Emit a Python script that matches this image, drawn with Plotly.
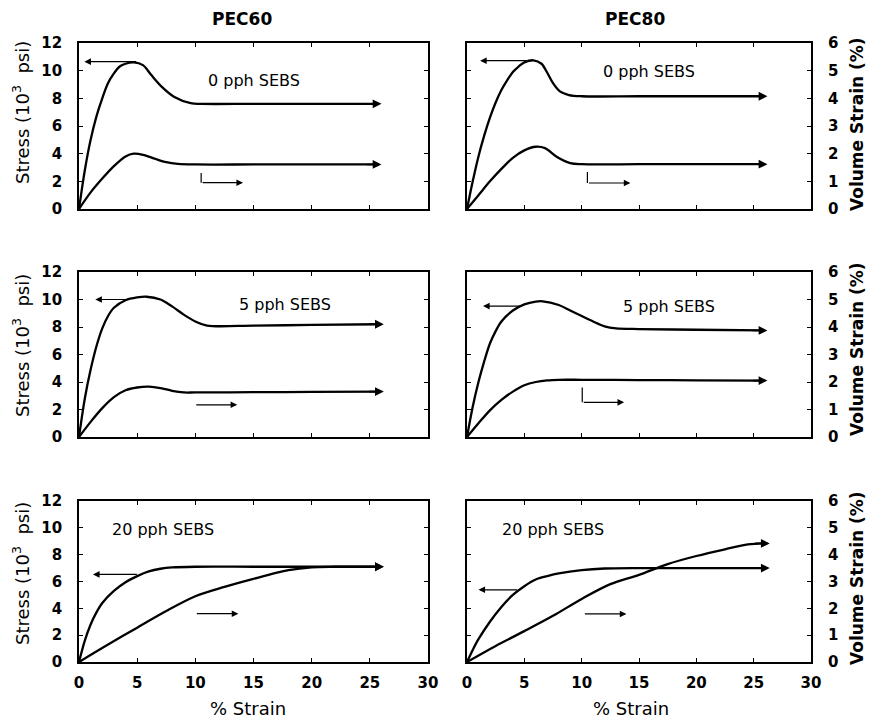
import plotly.graph_objects as go

# ---------------- data ----------------
# PEC60, 0 pph SEBS
p60_0_sx = [0, 0.5, 1, 1.5, 2, 2.5, 3, 3.5, 4, 4.7, 5.5, 6.2, 7.1, 8.2, 9.6, 10.5, 15, 20, 25.6]
p60_0_s = [0, 2.8, 5.0, 6.7, 8.0, 9.1, 9.8, 10.3, 10.5, 10.6, 10.4, 9.7, 8.85, 8.1, 7.65, 7.6, 7.6, 7.6, 7.6]
p60_0_vx = [0, 1, 2, 3, 4, 4.7, 5.5, 6.5, 7.5, 8.5, 10, 15, 20, 25.6]
p60_0_v = [0, 0.6, 1.1, 1.55, 1.9, 2.0, 1.96, 1.82, 1.69, 1.63, 1.61, 1.61, 1.61, 1.61]

# PEC80, 0 pph SEBS
p80_0_sx = [0, 0.5, 1, 1.5, 2, 2.5, 3, 3.5, 4, 4.5, 5, 5.8, 6.5, 7, 7.5, 8.1, 8.9, 10, 15, 20, 25.8]
p80_0_s = [0, 2.0, 3.8, 5.3, 6.6, 7.7, 8.6, 9.3, 9.9, 10.3, 10.6, 10.75, 10.5, 9.85, 9.1, 8.5, 8.24, 8.15, 8.15, 8.15, 8.15]
p80_0_vx = [0, 1, 2, 3, 4, 5, 6, 6.8, 7.85, 9, 10, 15, 20, 25.8]
p80_0_v = [0, 0.5, 1.0, 1.45, 1.85, 2.12, 2.25, 2.2, 1.88, 1.66, 1.62, 1.62, 1.62, 1.62]

# PEC60, 5 pph SEBS
p60_5_sx = [0, 0.5, 1, 1.5, 2, 2.5, 3, 4, 5, 5.8, 7, 8, 9, 10, 11, 15, 20, 25.8]
p60_5_s = [0, 2.8, 4.9, 6.6, 7.9, 8.8, 9.4, 9.95, 10.15, 10.2, 10.0, 9.5, 8.9, 8.4, 8.1, 8.1, 8.15, 8.2]
p60_5_vx = [0, 1, 2, 3, 4, 5, 6, 7, 8, 9, 10, 15, 20, 25.8]
p60_5_v = [0, 0.55, 1.05, 1.45, 1.7, 1.8, 1.83, 1.78, 1.68, 1.62, 1.62, 1.63, 1.64, 1.65]

# PEC80, 5 pph SEBS
p80_5_sx = [0, 0.5, 1, 1.5, 2, 2.5, 3, 4, 5, 6, 6.6, 8, 9, 10, 11, 12, 13, 15, 20, 25.8]
p80_5_s = [0, 2.2, 4.0, 5.5, 6.8, 7.7, 8.4, 9.2, 9.65, 9.85, 9.87, 9.6, 9.2, 8.8, 8.4, 8.05, 7.9, 7.85, 7.8, 7.75]
p80_5_vx = [0, 1, 2, 3, 4, 5, 6, 7, 8, 10, 15, 20, 25.8]
p80_5_v = [0, 0.5, 0.97, 1.35, 1.65, 1.88, 2.0, 2.06, 2.08, 2.08, 2.07, 2.06, 2.05]

# PEC60, 20 pph SEBS
p60_20_sx = [0, 0.5, 1, 1.5, 2, 3, 4, 5, 6, 7, 8, 10, 15, 20, 25.8]
p60_20_s = [0, 1.6, 2.8, 3.7, 4.4, 5.3, 5.95, 6.4, 6.75, 6.95, 7.05, 7.1, 7.1, 7.1, 7.1]
p60_20_vx = [0, 2.5, 5, 7.5, 10, 12.5, 15, 18, 20, 22, 25.8]
p60_20_v = [0, 0.65, 1.28, 1.9, 2.45, 2.8, 3.1, 3.42, 3.53, 3.55, 3.55]

# PEC80, 20 pph SEBS
p80_20_sx = [0, 0.5, 1, 2, 3, 4, 5, 6, 7, 8, 10, 12, 15, 20, 26]
p80_20_s = [0, 0.9, 1.7, 3.0, 4.1, 5.0, 5.65, 6.15, 6.4, 6.6, 6.85, 6.97, 7.0, 7.0, 7.0]
p80_20_vx = [0, 2.5, 5, 7.5, 10, 12.5, 15, 17.5, 20, 22.5, 24.5, 26]
p80_20_v = [0, 0.6, 1.15, 1.72, 2.35, 2.9, 3.25, 3.65, 3.95, 4.2, 4.38, 4.42]

panel_labels = ["0 pph SEBS", "0 pph SEBS", "5 pph SEBS", "5 pph SEBS", "20 pph SEBS", "20 pph SEBS"]
# label positions (x strain, y on the axis named in label_axis)
label_x = [15.0, 15.9, 17.7, 17.65, 7.25, 7.5]
label_y = [9.27, 4.97, 9.66, 4.74, 9.86, 4.94]
label_axis = ["s", "v", "s", "v", "s", "v"]

# "<-" arrows pointing to the stress axis: tail x, tip x, y, axis
left_arrow_tail = [5.05, 5.8, 4.4, 4.9, 5.1, 4.5]
left_arrow_tip = [0.46, 1.14, 1.4, 1.4, 1.2, 1.0]
left_arrow_y = [10.65, 5.36, 10.0, 4.76, 6.53, 2.69]
left_arrow_axis = ["s", "v", "s", "v", "s", "v"]

# "->" arrows pointing to the volume axis (volume units); L-bend start (None = straight)
right_arrow_tail = [10.5, 10.5, 9.95, 10.05, 10.0, 10.15]
right_arrow_tip = [14.1, 14.25, 13.6, 13.7, 13.7, 13.9]
right_arrow_y = [0.95, 0.94, 1.17, 1.26, 1.8, 1.79]
right_arrow_bend_top = [1.3, 1.34, None, 1.8, None, None]

panels = [
    (p60_0_sx, p60_0_s, p60_0_vx, p60_0_v),
    (p80_0_sx, p80_0_s, p80_0_vx, p80_0_v),
    (p60_5_sx, p60_5_s, p60_5_vx, p60_5_v),
    (p80_5_sx, p80_5_s, p80_5_vx, p80_5_v),
    (p60_20_sx, p60_20_s, p60_20_vx, p60_20_v),
    (p80_20_sx, p80_20_s, p80_20_vx, p80_20_v),
]

x_ticks = [0, 5, 10, 15, 20, 25, 30]
stress_ticks = [0, 2, 4, 6, 8, 10, 12]
vol_ticks = [0, 1, 2, 3, 4, 5, 6]

# ---------------- layout geometry ----------------
W, H = 870, 721


def fx(px):
    return px / W


def fy(py):
    return 1 - py / H


col_px = [(79, 428), (467, 811)]
row_px = [(43, 209), (272, 437), (501, 662)]

FONT = "DejaVu Sans"
fig = go.Figure()
layout = dict(width=W, height=H, margin=dict(l=0, r=0, t=0, b=0, pad=0, autoexpand=False),
              paper_bgcolor="white", plot_bgcolor="white", showlegend=False,
              font=dict(family=FONT, color="black"))
annotations = []
LINE = dict(color="black", width=2.3)

for i, (sx, s, vx, v) in enumerate(panels):
    r, c = divmod(i, 2)
    xa = f"xaxis{i + 1}" if i else "xaxis"
    ya = f"yaxis{2 * i + 1}" if i else "yaxis"
    yb = f"yaxis{2 * i + 2}"
    xr = f"x{i + 1}" if i else "x"
    ysr = f"y{2 * i + 1}" if i else "y"
    yvr = f"y{2 * i + 2}"
    x0, x1 = col_px[c]
    t0, t1 = row_px[r]
    dom_x = [fx(x0), fx(x1)]
    dom_y = [fy(t1), fy(t0)]
    layout[xa] = dict(domain=dom_x, anchor=ysr, range=[0, 30], tickvals=x_ticks,
                      ticks="inside", ticklen=4, tickwidth=1.3, tickcolor="black",
                      showline=True, linecolor="black", linewidth=1.6, mirror="ticks",
                      showgrid=False, zeroline=False, showticklabels=(r == 2), automargin=False,
                      tickfont=dict(family=FONT, size=15, color="black", weight="bold"),
                      ticklabelstandoff=6)
    layout[ya] = dict(domain=dom_y, anchor=xr, range=[0, 12], tickvals=stress_ticks,
                      ticks="inside", ticklen=4, tickwidth=1.3, tickcolor="black",
                      showline=True, linecolor="black", linewidth=1.6, mirror="ticks",
                      showgrid=False, zeroline=False, showticklabels=(c == 0), automargin=False,
                      tickfont=dict(family=FONT, size=15, color="black", weight="bold"),
                      ticklabelstandoff=12)
    layout[yb] = dict(overlaying=ysr, anchor=xr, side="right", range=[0, 6], tickvals=vol_ticks,
                      ticks="", showline=False, showgrid=False, zeroline=False,
                      showticklabels=(c == 1), automargin=False,
                      tickfont=dict(family=FONT, size=15, color="black", weight="bold"),
                      ticklabelstandoff=16)

    fig.add_trace(go.Scatter(x=sx, y=s, xaxis=xr, yaxis=ysr, mode="lines",
                             line=dict(shape="spline", smoothing=0.9, **LINE)))
    fig.add_trace(go.Scatter(x=vx, y=v, xaxis=xr, yaxis=yvr, mode="lines",
                             line=dict(shape="spline", smoothing=0.9, **LINE)))

    arrow = dict(showarrow=True, text="", arrowhead=2, arrowsize=1.1, arrowwidth=1.6,
                 arrowcolor="black", standoff=0, startstandoff=0)
    # curve-end arrows
    annotations.append(dict(x=sx[-1] + 0.4, y=s[-1], ax=sx[-1] - 1, ay=s[-1],
                            xref=xr, yref=ysr, axref=xr, ayref=ysr, **arrow))
    annotations.append(dict(x=vx[-1] + 0.4, y=v[-1], ax=vx[-1] - 1, ay=v[-1],
                            xref=xr, yref=yvr, axref=xr, ayref=yvr, **arrow))
    # left-pointing arrow
    lref = ysr if left_arrow_axis[i] == "s" else yvr
    annotations.append(dict(x=left_arrow_tip[i], y=left_arrow_y[i], ax=left_arrow_tail[i],
                            ay=left_arrow_y[i], xref=xr, yref=lref, axref=xr, ayref=lref,
                            **{**arrow, "arrowwidth": 1.2}))
    # right-pointing arrow (volume axis)
    annotations.append(dict(x=right_arrow_tip[i], y=right_arrow_y[i], ax=right_arrow_tail[i],
                            ay=right_arrow_y[i], xref=xr, yref=yvr, axref=xr, ayref=yvr,
                            **{**arrow, "arrowwidth": 1.2}))
    if right_arrow_bend_top[i] is not None:
        fig.add_trace(go.Scatter(x=[right_arrow_tail[i], right_arrow_tail[i]],
                                 y=[right_arrow_bend_top[i], right_arrow_y[i]],
                                 xaxis=xr, yaxis=yvr, mode="lines",
                                 line=dict(color="black", width=1.2)))
    # panel label
    tref = ysr if label_axis[i] == "s" else yvr
    annotations.append(dict(x=label_x[i], y=label_y[i], xref=xr, yref=tref, text=panel_labels[i],
                            xanchor="center", yanchor="middle",
                            showarrow=False, font=dict(family=FONT, size=16, color="black")))

CENTER = dict(xref="paper", yref="paper", xanchor="center", yanchor="middle", showarrow=False)
# column titles
for txt, px in [("PEC60", 242), ("PEC80", 635)]:
    annotations.append(dict(x=fx(px), y=fy(19), text=txt,
                            font=dict(family=FONT, size=17, color="black", weight="bold"), **CENTER))
for px in [248, 631]:
    annotations.append(dict(x=fx(px), y=fy(708), text="% Strain",
                            font=dict(family=FONT, size=18, color="black"), **CENTER))
for py in [113, 346, 574]:
    annotations.append(dict(x=fx(21), y=fy(py), text="Stress (10<sup>3</sup>  psi)", textangle=-90,
                            font=dict(family=FONT, size=18, color="black"), **CENTER))
for py in [124, 349, 578]:
    annotations.append(dict(x=fx(857), y=fy(py), text="Volume Strain (%)", textangle=-90,
                            font=dict(family=FONT, size=17, color="black", weight="bold"), **CENTER))

layout["annotations"] = annotations
fig.update_layout(**layout)
fig.write_html("out.html")
